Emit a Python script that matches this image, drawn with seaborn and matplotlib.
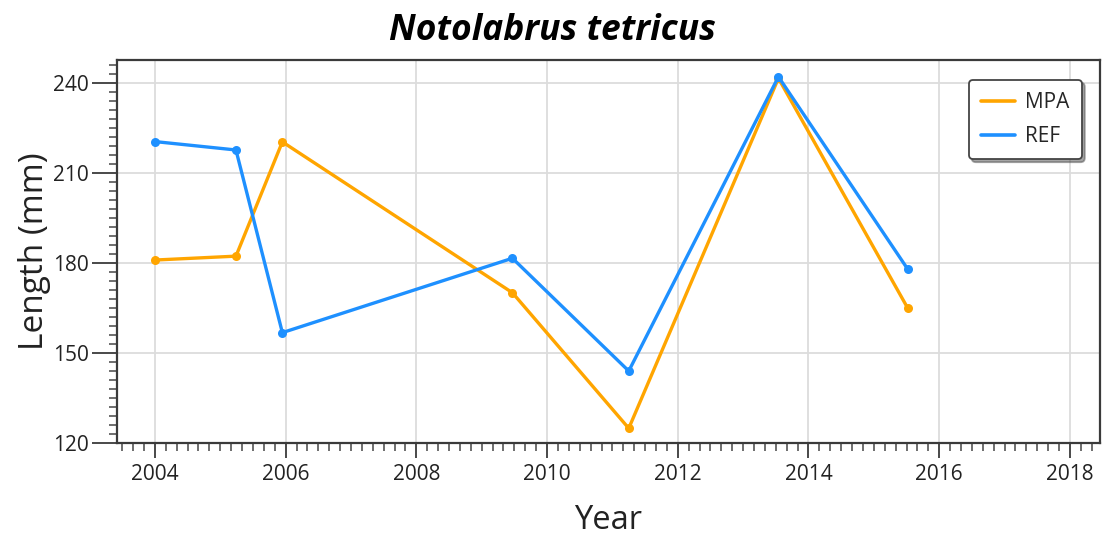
import numpy as np
import pandas as pd
import matplotlib
matplotlib.use("Agg")
import matplotlib.pyplot as plt
from matplotlib.ticker import MultipleLocator
import seaborn as sns

# Survey times (decimal years) and mean lengths (mm)
years = [2004.0, 2005.24, 2005.95, 2009.47, 2011.25, 2013.54, 2015.52]
mpa_length = [181.0, 182.3, 220.4, 170.1, 124.9, 241.6, 164.9]
ref_length = [220.5, 217.7, 156.8, 181.6, 144.0, 242.1, 177.9]
sites = ["MPA", "REF"]
site_colors = {"MPA": "#FFA500", "REF": "#1E90FF"}

df = pd.DataFrame({
    "Year": years * 2,
    "Length": mpa_length + ref_length,
    "Site": ["MPA"] * len(years) + ["REF"] * len(years),
})

sns.set_theme(style="white")
plt.rcParams["font.family"] = ["Open Sans", "DejaVu Sans"]

fig = plt.figure(figsize=(11.02, 5.38), dpi=100)
ax = fig.add_axes([117 / 1102, 1 - 443 / 538, (1100 - 117) / 1102, (443 - 60) / 538])

sns.lineplot(data=df, x="Year", y="Length", hue="Site", hue_order=sites,
             palette=site_colors, marker="o", markersize=6.5, markeredgewidth=0,
             linewidth=2.4, ax=ax, sort=False, legend=True)

ax.set_xlim(2003.42, 2018.46)
ax.set_ylim(120, 247.7)
ax.xaxis.set_major_locator(MultipleLocator(2))
ax.xaxis.set_minor_locator(MultipleLocator(1 / 6))
ax.yaxis.set_major_locator(MultipleLocator(30))
ax.yaxis.set_minor_locator(MultipleLocator(3))

ax.grid(True, which="major", color="#dcdcdc", linewidth=1.3)
ax.set_axisbelow(True)

for side, sp in ax.spines.items():
    sp.set_visible(True)
    sp.set_color("#3a3a3a")
    sp.set_linewidth(1.6)

ax.tick_params(axis="both", which="major", direction="out", length=11, width=1.3,
               color="#3a3a3a", labelsize=15, labelcolor="#222222", pad=4,
               bottom=True, left=True)
ax.tick_params(axis="both", which="minor", direction="out", length=6, width=1.2,
               color="#555555", bottom=True, left=True)
ax.tick_params(axis="y", which="major", length=18, pad=2)

ax.set_xlabel("Year", fontsize=23.5, color="#222222")
ax.set_ylabel("Length (mm)", fontsize=24, color="#222222")
ax.yaxis.set_label_coords((51 - 117) / 983, 0.5)
ax.xaxis.set_label_coords(0.5, -0.158)

fig.text(552 / 1102, 1 - 31 / 538, "Notolabrus tetricus", ha="center", va="center",
         fontsize=25.5, fontweight="bold", fontstyle="italic", color="black")

handles, labels = ax.get_legend_handles_labels()
for h in handles:
    h.set_marker("")
    h.set_linewidth(2.6)
leg = ax.legend(handles, labels, loc="upper right", bbox_to_anchor=(0.9817, 0.948),
                borderaxespad=0, fontsize=15, frameon=True, fancybox=True, shadow=True,
                handlelength=1.6, handletextpad=0.5, borderpad=0.6,
                labelspacing=0.6)
leg.get_frame().set_edgecolor("#444444")
leg.get_frame().set_linewidth(1.3)

fig.savefig("out.png", dpi=100)
